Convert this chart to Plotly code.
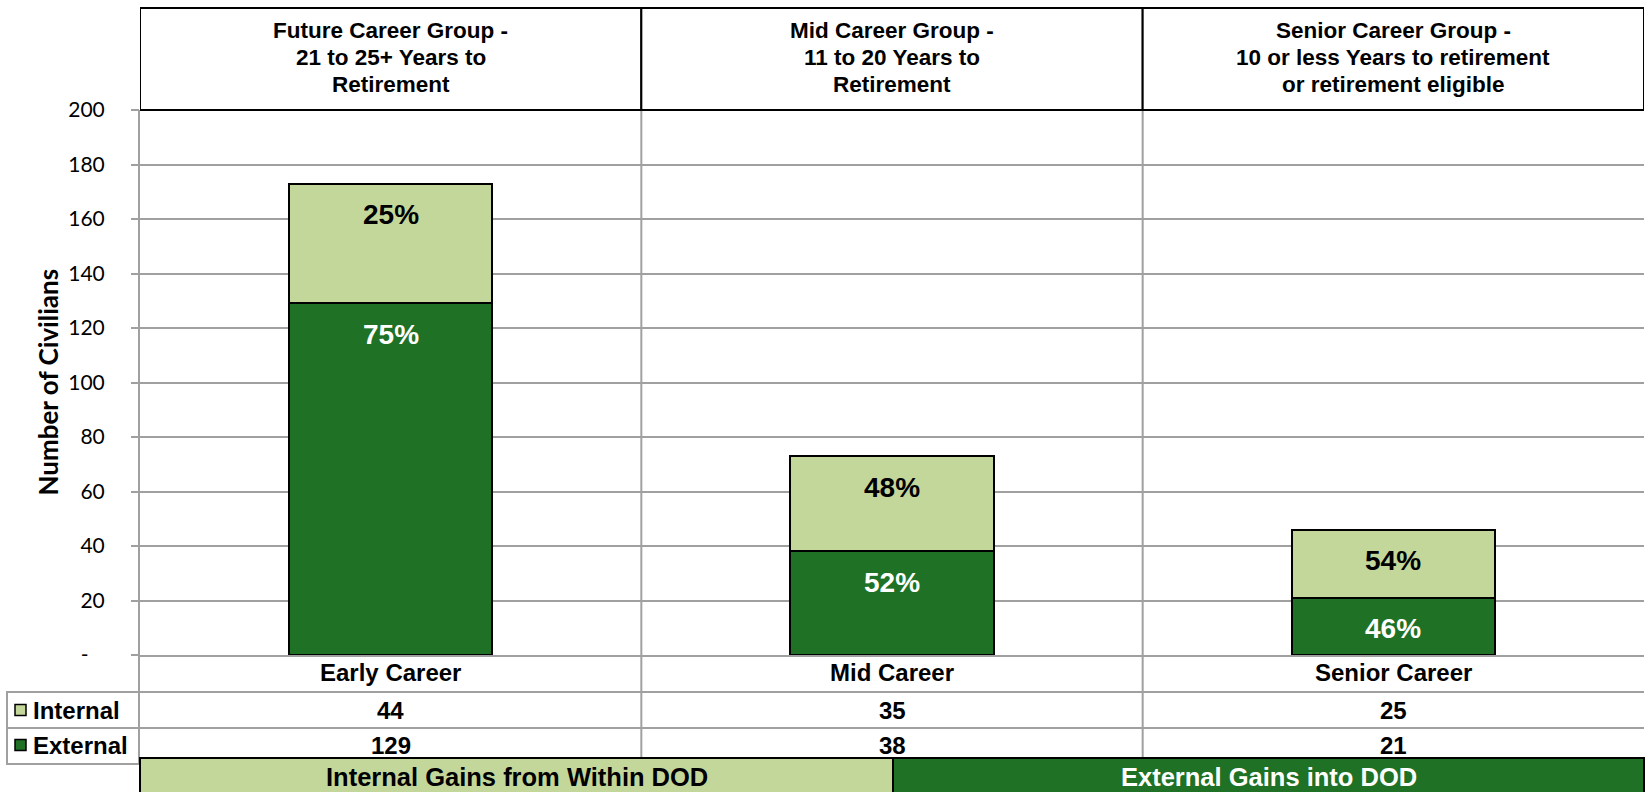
import plotly.graph_objects as go

# ---- data ----
categories = ["Early Career", "Mid Career", "Senior Career"]
internal = [44, 35, 25]
external = [129, 38, 21]
group_headers = [
    ["Future Career Group -", "21 to 25+ Years to", "Retirement"],
    ["Mid Career Group -", "11 to 20 Years to", "Retirement"],
    ["Senior Career Group -", "10 or less Years to retirement", "or retirement eligible"],
]
y_ticks = [0, 20, 40, 60, 80, 100, 120, 140, 160, 180, 200]
y_tick_text = ["-\u00a0\u00a0\u00a0"] + [str(v) for v in y_ticks[1:]]
banner_labels = ["Internal Gains from Within DOD", "External Gains into DOD"]

# ---- style ----
LIGHT = "#C4D79B"
DARK = "#1E7125"
GRID = "#A0A0A0"
W, H = 1646, 792
L, R, T, B = 140, 2, 110, 137
PW, PH = W - L - R, H - T - B
ARIAL = "Liberation Sans, Arial, sans-serif"
CALIBRI = "Lato, Carlito, Calibri, sans-serif"


def px_x(p):
    return (p - L) / PW


def px_y(p):
    return (H - B - p) / PH


totals = [a + b for a, b in zip(internal, external)]
ext_pct = [round(100 * e / t) for e, t in zip(external, totals)]
int_pct = [round(100 * i / t) for i, t in zip(internal, totals)]

fig = go.Figure()
fig.add_bar(name="External", x=categories, y=external,
            marker=dict(color=DARK, line=dict(color="black", width=2)),
            hoverinfo="skip")
fig.add_bar(name="Internal", x=categories, y=internal,
            marker=dict(color=LIGHT, line=dict(color="black", width=2)),
            hoverinfo="skip")

annotations = []
shapes = []


def label(x, y, text, size, color="black", xref="x", yref="paper", xanchor="center",
          family=ARIAL, **kw):
    annotations.append(dict(x=x, y=y, xref=xref, yref=yref, text=text, showarrow=False,
                            xanchor=xanchor, yanchor="middle",
                            font=dict(family=family, size=size, color=color, weight="bold"),
                            **kw))


# percentage labels near the top of each segment
for i, c in enumerate(categories):
    label(c, external[i], f"{ext_pct[i]}%", 28, "white", yref="y", yshift=-31)
    label(c, totals[i], f"{int_pct[i]}%", 28, "black", yref="y", yshift=-31)

# header boxes above each career group
for i, lines in enumerate(group_headers):
    shapes.append(dict(type="rect", xref="x", yref="paper", x0=i - 0.5, x1=i + 0.5,
                       y0=1.0, y1=px_y(8), line=dict(color="black", width=2),
                       fillcolor="white", layer="above"))
    for k, line in enumerate(lines):
        label(categories[i], px_y(30 + 27 * k), line, 22.5)

# vertical separators between groups (through the data table)
for xb in [0.5, 1.5]:
    shapes.append(dict(type="line", xref="x", yref="paper", x0=xb, x1=xb,
                       y0=px_y(758), y1=1.0, line=dict(color=GRID, width=2), layer="below"))
shapes.append(dict(type="line", xref="paper", yref="paper", x0=px_x(139), x1=px_x(139),
                   y0=px_y(764), y1=1.0, line=dict(color=GRID, width=2), layer="below"))

# data table rows
for yl in [692, 728]:
    shapes.append(dict(type="line", xref="paper", yref="paper", x0=px_x(7), x1=1.0,
                       y0=px_y(yl), y1=px_y(yl), line=dict(color=GRID, width=2)))
shapes.append(dict(type="rect", xref="paper", yref="paper", x0=px_x(7), x1=px_x(139),
                   y0=px_y(764), y1=px_y(692), line=dict(color=GRID, width=2)))

for i, c in enumerate(categories):
    label(c, px_y(673), c, 24)
    label(c, px_y(710), str(internal[i]), 24)
    label(c, px_y(745), str(external[i]), 24)

# row legend keys
for name, col, yc in [("Internal", LIGHT, 710), ("External", DARK, 745)]:
    shapes.append(dict(type="rect", xref="paper", yref="paper", x0=px_x(15), x1=px_x(26),
                       y0=px_y(yc + 5.5), y1=px_y(yc - 5.5), fillcolor=col,
                       line=dict(color="black", width=1.5)))
    label(px_x(31), px_y(yc), name, 24, xref="paper", xanchor="left")

# bottom banners
for x0, x1, col, txt, tc in [(140, 893, LIGHT, banner_labels[0], "black"),
                             (893, 1644, DARK, banner_labels[1], "white")]:
    shapes.append(dict(type="rect", xref="paper", yref="paper", x0=px_x(x0), x1=px_x(x1),
                       y0=px_y(796), y1=px_y(758), fillcolor=col,
                       line=dict(color="black", width=2)))
    label(px_x((x0 + x1) / 2), px_y(777), txt, 25.5, tc, xref="paper")

# y-axis title
label(px_x(47), 0.5, "Number of Civilians", 26, xref="paper", family=CALIBRI,
      textangle=-90)

fig.update_layout(
    width=W, height=H,
    margin=dict(l=L, r=R, t=T, b=B),
    barmode="stack", bargap=0.595,
    showlegend=False,
    plot_bgcolor="white", paper_bgcolor="white",
    xaxis=dict(range=[-0.5, 2.5], showticklabels=False, showgrid=False,
               showline=True, linecolor=GRID, linewidth=2, ticks="", zeroline=False),
    yaxis=dict(range=[0, 200], tickvals=y_ticks, ticktext=y_tick_text,
               showgrid=True, gridcolor=GRID, gridwidth=2,
               ticks="outside", ticklen=8, tickwidth=2, tickcolor=GRID,
               showline=False, zeroline=False, ticklabelstandoff=22,
               tickfont=dict(family=CALIBRI, size=21, color="black")),
    shapes=shapes,
    annotations=annotations,
)

fig.write_html("out.html")
